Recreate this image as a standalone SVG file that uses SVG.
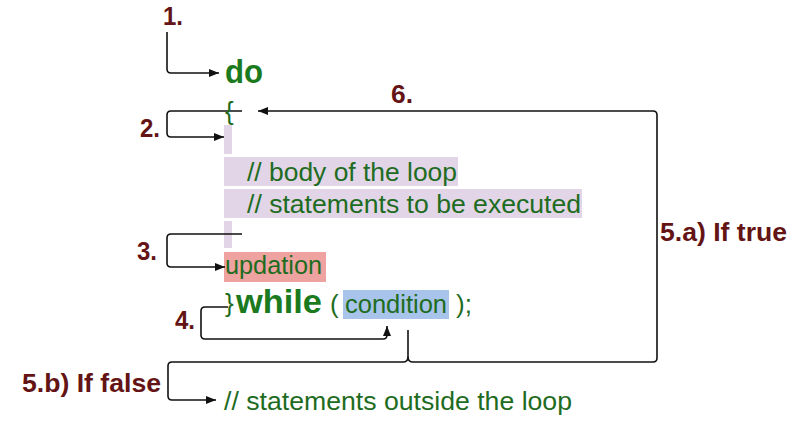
<svg xmlns="http://www.w3.org/2000/svg" width="795" height="434" viewBox="0 0 795 434">
<style>
.lbl{font-family:"Liberation Sans",Arial,sans-serif;font-weight:bold;font-size:26px;fill:#641414}
.code{font-family:"Liberation Sans",Arial,sans-serif;font-size:26px;fill:#1e6c21}
.kw{font-family:"Liberation Sans",Arial,sans-serif;font-weight:bold;font-size:34px;fill:#1a7a1d}
.conn{fill:none;stroke:#111;stroke-width:1.6}
.arr{marker-end:url(#ah)}
</style>
<defs>
<marker id="ah" markerUnits="userSpaceOnUse" markerWidth="11" markerHeight="9" refX="10" refY="4" orient="auto">
<path d="M0,0 L10,4 L0,8 Z" fill="#111"/>
</marker>
</defs>
<rect width="795" height="434" fill="#fff"/>

<g id="highlights">
<rect x="224" y="125" width="8" height="29" fill="#e1d5e7"/>
<rect x="224" y="157" width="234" height="29" fill="#e1d5e7"/>
<rect x="224" y="189" width="358" height="29" fill="#e1d5e7"/>
<rect x="224" y="221" width="8" height="27" fill="#e1d5e7"/>
<rect x="224" y="252" width="102" height="30" fill="#eea3a0"/>
<rect x="343" y="290" width="106" height="29" fill="#a9c4eb"/>
</g>

<g id="connectors">
<path class="conn arr" d="M167,32 V69 Q167,73 171,73 H219"/>
<path class="conn arr" d="M242,111 H171 Q167,111 167,115 V133 Q167,137 171,137 H224"/>
<path class="conn arr" d="M242,234 H171 Q167,234 167,238 V263 Q167,267 171,267 H225"/>
<path class="conn arr" d="M228,307 H205 Q201,307 201,311 V335 Q201,339 205,339 H383 Q387,339 387,335 V326"/>
<path class="conn" d="M408,330 V357"/>
<path class="conn arr" d="M408,357 Q408,362 403,362 H172 Q168,362 168,366 V396 Q168,400 172,400 H216"/>
<path class="conn arr" d="M408,357 Q408,362 413,362 H653 Q657,362 657,358 V115 Q657,111 653,111 H258"/>
</g>

<g id="step1"><text class="lbl" x="163" y="25" textLength="20" lengthAdjust="spacingAndGlyphs">1.</text></g>
<g id="step2"><text class="lbl" x="140" y="137" textLength="20" lengthAdjust="spacingAndGlyphs">2.</text></g>
<g id="step3"><text class="lbl" x="137" y="260" textLength="20" lengthAdjust="spacingAndGlyphs">3.</text></g>
<g id="step4"><text class="lbl" x="175" y="329" textLength="20" lengthAdjust="spacingAndGlyphs">4.</text></g>
<g id="step6"><text class="lbl" x="391" y="103" textLength="22" lengthAdjust="spacingAndGlyphs">6.</text></g>
<g id="step5a"><text class="lbl" x="660" y="241" textLength="127" lengthAdjust="spacingAndGlyphs">5.a) If true</text></g>
<g id="step5b"><text class="lbl" x="22" y="392" textLength="139" lengthAdjust="spacingAndGlyphs">5.b) If false</text></g>

<g id="do"><text class="kw" x="225" y="83" font-size="32" textLength="38" lengthAdjust="spacingAndGlyphs">do</text></g>
<g id="open-brace"><text class="code" x="225" y="120" font-size="24">{</text></g>
<g id="body">
<text class="code" x="247" y="181" textLength="210" lengthAdjust="spacingAndGlyphs">// body of the loop</text>
<text class="code" x="247" y="213" textLength="334" lengthAdjust="spacingAndGlyphs">// statements to be executed</text>
</g>
<g id="updation"><text class="code" x="225" y="274" textLength="97" lengthAdjust="spacingAndGlyphs">updation</text></g>
<g id="while">
<text class="code" x="225" y="312" font-size="31">}</text>
<text class="kw" x="236" y="313" textLength="86" lengthAdjust="spacingAndGlyphs">while</text>
<text class="code" x="330" y="313">(</text>
<text class="code" x="345" y="313" textLength="102" lengthAdjust="spacingAndGlyphs">condition</text>
<text class="code" x="456" y="313">);</text>
</g>
<g id="outside"><text class="code" x="224" y="410" textLength="348" lengthAdjust="spacingAndGlyphs">// statements outside the loop</text></g>
</svg>
